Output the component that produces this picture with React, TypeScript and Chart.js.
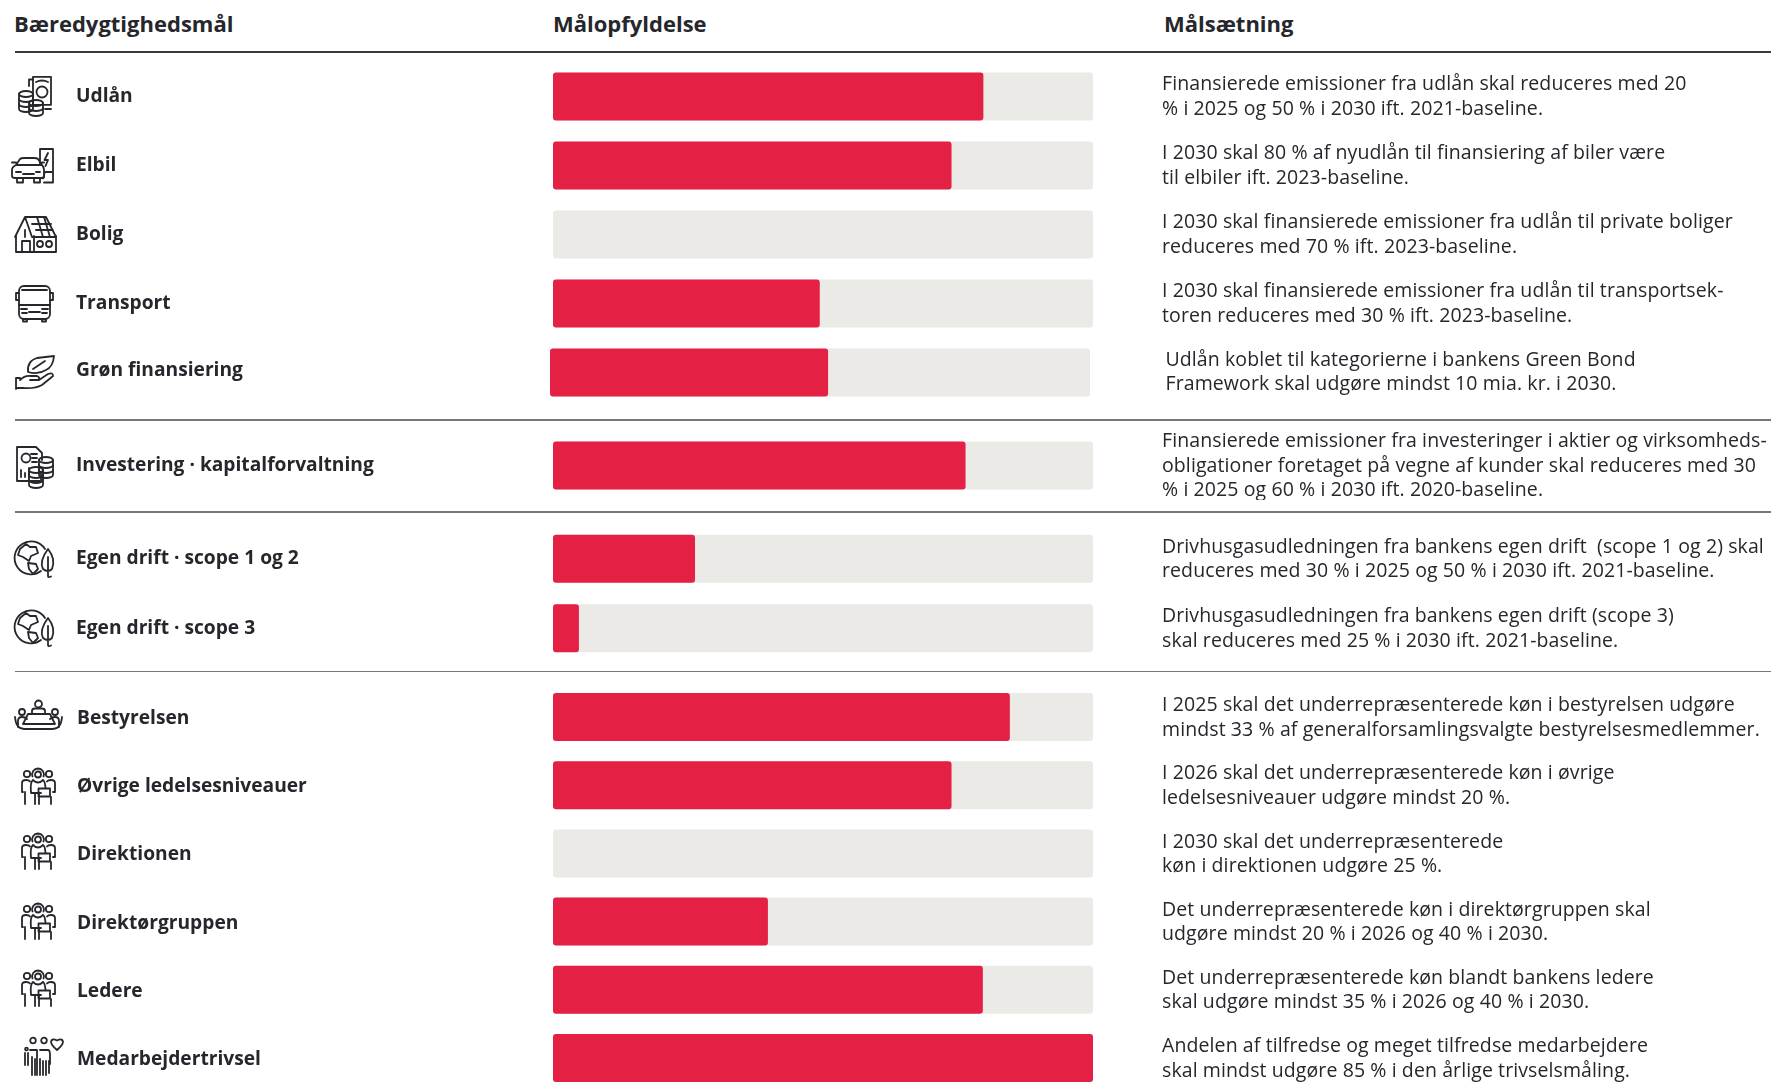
import React, { useEffect, useRef } from "react";
import { Chart, registerables } from "chart.js";

Chart.register(...registerables);

const FONT = "'Open Sans'";
const INK = "#26272c";
const RED = "#E42045";
const TRACK = "#EBEAE6";

const columnHeaders = ["Bæredygtighedsmål", "Målopfyldelse", "Målsætning"];

const goals = [
  "Udlån",
  "Elbil",
  "Bolig",
  "Transport",
  "Grøn finansiering",
  "Investering · kapitalforvaltning",
  "Egen drift · scope 1 og 2",
  "Egen drift · scope 3",
  "Bestyrelsen",
  "Øvrige ledelsesniveauer",
  "Direktionen",
  "Direktørgruppen",
  "Ledere",
  "Medarbejdertrivsel",
];

const achieved = [79.7, 73.8, 0, 49.4, 51.5, 76.4, 26.3, 4.8, 84.6, 73.8, 0, 39.8, 79.6, 100];
const fullScale = [100, 100, 100, 100, 100, 100, 100, 100, 100, 100, 100, 100, 100, 100];

const goalTexts = [
  ["Finansierede emissioner fra udlån skal reduceres med 20", "% i 2025 og 50 % i 2030 ift. 2021-baseline."],
  ["I 2030 skal 80 % af nyudlån til finansiering af biler være", "til elbiler ift. 2023-baseline."],
  ["I 2030 skal finansierede emissioner fra udlån til private boliger", "reduceres med 70 % ift. 2023-baseline."],
  ["I 2030 skal finansierede emissioner fra udlån til transportsek-", "toren reduceres med 30 % ift. 2023-baseline."],
  ["Udlån koblet til kategorierne i bankens Green Bond", "Framework skal udgøre mindst 10 mia. kr. i 2030."],
  ["Finansierede emissioner fra investeringer i aktier og virksomheds-", "obligationer foretaget på vegne af kunder skal reduceres med 30", "% i 2025 og 60 % i 2030 ift. 2020-baseline."],
  ["Drivhusgasudledningen fra bankens egen drift  (scope 1 og 2) skal", "reduceres med 30 % i 2025 og 50 % i 2030 ift. 2021-baseline."],
  ["Drivhusgasudledningen fra bankens egen drift (scope 3)", "skal reduceres med 25 % i 2030 ift. 2021-baseline."],
  ["I 2025 skal det underrepræsenterede køn i bestyrelsen udgøre", "mindst 33 % af generalforsamlingsvalgte bestyrelsesmedlemmer."],
  ["I 2026 skal det underrepræsenterede køn i øvrige", "ledelsesniveauer udgøre mindst 20 %."],
  ["I 2030 skal det underrepræsenterede", "køn i direktionen udgøre 25 %."],
  ["Det underrepræsenterede køn i direktørgruppen skal", "udgøre mindst 20 % i 2026 og 40 % i 2030."],
  ["Det underrepræsenterede køn blandt bankens ledere", "skal udgøre mindst 35 % i 2026 og 40 % i 2030."],
  ["Andelen af tilfredse og meget tilfredse medarbejdere", "skal mindst udgøre 85 % i den årlige trivselsmåling."],
];

// page layout of each block of rows
const blocks = [
  { first: 0, count: 4, top: 62, height: 276, labelX: 76, barL: 553, barR: 1093, textX: 1162, labelShift: 0, textShift: 0.5 },
  { first: 4, count: 1, top: 338, height: 69, labelX: 76, barL: 550, barR: 1090, textX: 1165.5, labelShift: -2, textShift: 0 },
  { first: 5, count: 1, top: 431, height: 69, labelX: 76, barL: 553, barR: 1093, textX: 1162, labelShift: 0, textShift: 0.5 },
  { first: 6, count: 2, top: 524, height: 139, labelX: 76, barL: 553, barR: 1093, textX: 1162, labelShift: 0, textShift: 0.5 },
  { first: 8, count: 6, top: 683, height: 409, labelX: 77, barL: 553, barR: 1093, textX: 1162, labelShift: 1.5, textShift: 0.8 },
];

const dividers = [
  { y: 51.5, h: 2, c: "#3b3b3f" },
  { y: 420, h: 1.6, c: "#77777a" },
  { y: 512, h: 1.6, c: "#77777a" },
  { y: 671.7, h: 1.6, c: "#77777a" },
];

const TEXT_SIZE = 19.5;
const LABEL_SIZE = 19.2;

const goalTextPlugin = {
  id: "goalText",
  afterDraw(chart: any, _a: any, opts: any) {
    const { ctx, scales } = chart;
    ctx.save();
    ctx.font = `400 ${TEXT_SIZE}px ${FONT}`;
    (ctx as any).letterSpacing = "0.1px";
    ctx.fillStyle = INK;
    ctx.textAlign = "left";
    ctx.textBaseline = "middle";
    (opts.rows as string[][]).forEach((lines, i) => {
      const cy = scales.y.getPixelForValue(i) + opts.shift;
      lines.forEach((line, j) => {
        ctx.fillText(line, opts.x, cy + (j - (lines.length - 1) / 2) * 24.5);
      });
    });
    ctx.restore();
  },
};

function Block({ b }: { b: (typeof blocks)[number] }) {
  const ref = useRef<HTMLCanvasElement>(null);
  useEffect(() => {
    const end = b.first + b.count;
    const barStyle = { grouped: false, barThickness: 48, borderRadius: 3, borderSkipped: false, inflateAmount: 0 };
    const chart = new Chart(ref.current!, {
      type: "bar",
      data: {
        labels: goals.slice(b.first, end),
        datasets: [
          { label: columnHeaders[1], data: achieved.slice(b.first, end), backgroundColor: RED, order: 1, ...barStyle } as any,
          { label: "Mål", data: fullScale.slice(b.first, end), backgroundColor: TRACK, order: 2, ...barStyle } as any,
        ],
      },
      options: {
        indexAxis: "y",
        animation: false,
        responsive: false,
        layout: { padding: { left: b.labelX, right: 1776 - b.barR, top: 0, bottom: 0 } },
        plugins: {
          legend: { display: false },
          tooltip: { enabled: false },
          goalText: { rows: goalTexts.slice(b.first, end), x: b.textX, shift: b.textShift },
        } as any,
        scales: {
          x: { display: false, min: 0, max: 100 },
          y: {
            grid: { display: false, drawTicks: false },
            border: { display: false },
            afterFit(s: any) {
              s.width = b.barL - b.labelX;
              s.paddingTop = 0;
              s.paddingBottom = 0;
            },
            ticks: {
              autoSkip: false,
              crossAlign: "far",
              labelOffset: b.labelShift,
              color: INK,
              font: { family: FONT, size: LABEL_SIZE, weight: "700" },
            },
          },
        },
      },
      plugins: [goalTextPlugin],
    } as any);
    return () => chart.destroy();
  }, []);
  return <canvas ref={ref} width={1776} height={b.height} style={{ position: "absolute", left: 0, top: b.top, width: 1776, height: b.height, display: "block" }} />;
}

function Coins({ cx, top, n, rx = 7 }: { cx: number; top: number; n: number; rx?: number }) {
  const step = 5;
  const out: any[] = [<ellipse key="t" cx={cx} cy={top} rx={rx} ry={3} />];
  for (let i = 1; i <= n; i++) {
    out.push(<path key={i} d={`M${cx - rx},${top + (i - 1) * step} v${step} a${rx},3 0 0 0 ${2 * rx},0 v-${step}`} />);
  }
  return <>{out}</>;
}

function Trio() {
  return (
    <>
      <circle cx="7" cy="6" r="3.2" />
      <circle cx="29" cy="6" r="3.2" />
      <path d="M18,0.5 a6,6 0 0 1 5.5,8 M18,0.5 a6,6 0 0 0 -5.5,8" />
      <circle cx="18" cy="6.5" r="3" />
      <path d="M5,36 V24 M2,24 V15 Q2,12 6,12 Q9,12 10,13.5 M2,24 H3" />
      <path d="M31,36 V29 M35,24 V15 Q35,12 31,12 Q28,12 27,13.5 M35,24 H33" />
      <path d="M13,12 Q10,14 11,25 H21 M23,12 Q18,17 13,12 M23,12 Q25,13 25.5,20 M15,25 V36 M19,25 V36" />
      <rect x="18.5" y="20.5" width="11.5" height="8" />
    </>
  );
}

function Globe() {
  return (
    <>
      <path d="M27,32 A16.5,16.5 0 1 1 31,10" />
      <path d="M6,10 L12,5 L16,8 L22,8 L24,14 L17,17 L15,22 L9,18 L4,16 Z" />
      <path d="M14,24 L22,25 L24,30 L19,35 L15,30 Z" />
      <path d="M34,10 Q42,20 38,30 Q34,34 29,30 Q25,22 34,10 Z M34,18 V37 Q34,39 37,37.5" />
    </>
  );
}

const icons: { x: number; y: number; w: number; h: number; el: any }[] = [
  { x: 17.5, y: 76, w: 34, h: 40, el: (
    <>
      <rect x="15" y="0.8" width="18" height="28" />
      <path d="M15,3.5 H11 V10 M33,33 H27 M18,6 Q24,3 30,6" />
      <circle cx="24" cy="16" r="5.5" />
      <Coins cx={8} top={18} n={3} />
      <Coins cx={18} top={27} n={2} />
    </>
  ) },
  { x: 11, y: 148, w: 43, h: 35, el: (
    <>
      <path d="M29,17 V1 H42 V34.5 H33 M37,5 L33.5,12 H37 L34.5,18 M42,24 H35 Q33,24 33,27 V29 Q33,31 30,30" />
      <path d="M5,17 L9,11 Q10,10 13,10 H23 Q26,10 27,11 L31,17 Q33,19 33,22 V28 Q33,30 30,30 H4 Q1,30 1,28 V22 Q1,19 5,17 Z M5,17 H31 M6,30 V34.5 H12 V31 M23,31 V34.5 H29 V30 M5,24 H10 M25,24 H29 M12,26 H23 M1,14.5 H5 M31,14.5 H33" />
    </>
  ) },
  { x: 14, y: 216, w: 43, h: 37, el: (
    <>
      <path d="M1,21 L11,1 H32 L42,21 M11,1 L18,21 H42 M11,14 V21 M18,8 H37 M22,14 H39 M23,1 L29,21 M30,1 L36,21" />
      <path d="M2,20 V36 H42 V20 M8,36 V25 H16 V36 M20,20 V36" />
      <circle cx="26" cy="28" r="3" />
      <circle cx="35" cy="28" r="3" />
    </>
  ) },
  { x: 15, y: 285, w: 39, h: 37, el: (
    <>
      <rect x="4" y="1" width="31" height="33" rx="5" />
      <path d="M4,8 H1 V15 H4 M35,8 H38 V15 H35 M4,20 H35 M8,34 V36.5 H12 V34 M27,34 V36.5 H31 V34 M6,24 H12 M27,24 H33 M14,27 H25 M7,28 H12 M27,28 H32 M7,5 H32" />
    </>
  ) },
  { x: 15, y: 355, w: 39, h: 35, el: (
    <>
      <path d="M1,23 H5 M1,23 V34 M1,33 H8 Q20,34 27,30 L38,21 Q38,17 33,19 L24,25 H15 M5,25 Q10,20 16,21 H22 Q25,22 24,25" />
      <path d="M13,17 Q12,6 22,3 L39,1 Q38,12 31,15 Q23,20 13,17 Z M18,14 L30,6" />
    </>
  ) },
  { x: 16, y: 446, w: 38, h: 39, el: (
    <>
      <path d="M25,26 V35 H1 V1 H20 L26,7 V14" />
      <circle cx="10" cy="12" r="4.5" />
      <path d="M15,8 H21 M16,12 H21 M16,16 H21 M5,24 V31 M9,27 V31 M13,22 V31" />
      <Coins cx={30} top={14} n={3} />
      <Coins cx={20} top={24} n={3} />
    </>
  ) },
  { x: 14, y: 539, w: 40, h: 39, el: <Globe /> },
  { x: 14, y: 608, w: 40, h: 39, el: <Globe /> },
  { x: 14, y: 700, w: 50, h: 31, el: (
    <>
      <circle cx="24.5" cy="4" r="3.5" />
      <path d="M18,14 V11 Q18,8.5 21,8.5 H28 Q31,8.5 31,11 V14 M14,14 H36 L41,24 H9 Z" />
      <circle cx="8" cy="12" r="3" />
      <circle cx="41" cy="12" r="3" />
      <path d="M1,17 Q2,29 10,29 H39 Q47,29 48,17 M4,27 V21 Q4,17 8,17 Q11,17 13,19 M45,27 V21 Q45,17 41,17 Q38,17 36,19" />
    </>
  ) },
  { x: 20, y: 768, w: 37, h: 37, el: <Trio /> },
  { x: 20, y: 833, w: 37, h: 37, el: <Trio /> },
  { x: 20, y: 903, w: 37, h: 37, el: <Trio /> },
  { x: 20, y: 970, w: 37, h: 37, el: <Trio /> },
  { x: 24, y: 1037, w: 40, h: 39, el: (
    <>
      <circle cx="9" cy="3.5" r="2.8" />
      <circle cx="20" cy="3.5" r="2.8" />
      <circle cx="2.5" cy="12" r="1.4" />
      <path d="M33,13 Q27,8 27,4.5 Q28,1 33,3.5 Q38,1 39,4.5 Q39,8 33,13 Z" />
      <path d="M1,16 V28 M4,16 V28 M6,13 H13 V38 M8,20 V38 M11,22 V38 M16,13 H24 Q26,13 26,18 V27 M16,22 V38 M19,24 V38 M22,24 V38 M25,24 V36" />
    </>
  ) },
];

const headerStyle = (left: number): React.CSSProperties => ({
  position: "absolute",
  left,
  top: 10,
  fontFamily: FONT,
  fontWeight: 700,
  fontSize: 22,
  lineHeight: "27px",
  color: INK,
  whiteSpace: "nowrap",
});

export default function App() {
  return (
    <div style={{ position: "absolute", left: 0, top: 0, width: 1776, height: 1089, overflow: "hidden", background: "#fff" }}>
      <div style={headerStyle(14)}>{columnHeaders[0]}</div>
      <div style={headerStyle(553)}>{columnHeaders[1]}</div>
      <div style={headerStyle(1164)}>{columnHeaders[2]}</div>
      {dividers.map((d, i) => (
        <div key={i} style={{ position: "absolute", left: 15, width: 1756, top: d.y - d.h / 2, height: d.h, background: d.c }} />
      ))}
      {blocks.map((b) => <Block key={b.first} b={b} />)}
      {icons.map((ic, i) => (
        <svg key={i} width={ic.w} height={ic.h} viewBox={`0 0 ${ic.w} ${ic.h}`} style={{ position: "absolute", left: ic.x, top: ic.y, overflow: "visible" }} fill="none" stroke={INK} strokeWidth={1.8} strokeLinejoin="round" strokeLinecap="round">
          {ic.el}
        </svg>
      ))}
    </div>
  );
}
